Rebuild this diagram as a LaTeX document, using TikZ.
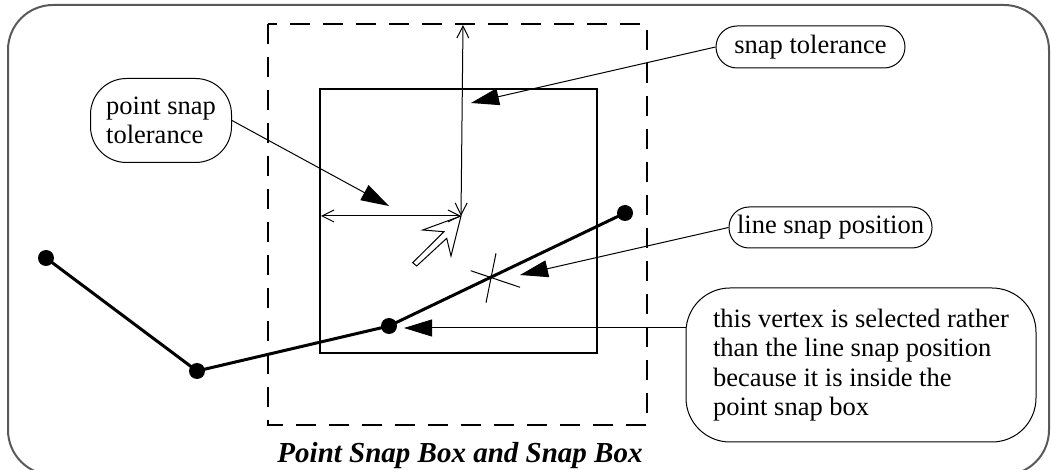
\documentclass[tikz,border=0pt]{standalone}
\usepackage{fontspec}
\setmainfont{Liberation Serif}
\usetikzlibrary{positioning,arrows.meta}

\begin{document}
\begin{tikzpicture}[x=0.5pt,y=-0.5pt,
  callout/.style={draw,line width=0.5pt,inner sep=0pt,align=left,font=\fontsize{13.25}{14.75}\selectfont},
  leader/.style={line width=0.5pt,-{Triangle[length=14pt,width=8.5pt]}},
  dimline/.style={line width=0.5pt,{Straight Barb[length=6pt,width=6pt]}-{Straight Barb[length=6pt,width=6pt]}},
  vertexdot/.style={circle,fill,inner sep=0pt,minimum size=8pt}]
\useasboundingbox (0,0) rectangle (1051,470);
\draw[black!65,line width=1pt,rounded corners=22.5pt] (8,5) rectangle (1049,475);
% the two boxes
\draw[line width=1.2pt,dash pattern=on 10pt off 6.5pt] (268,24) rectangle (647,425);
\draw[line width=1pt] (320,89) rectangle (597,353);
% line with its vertices
\coordinate (v1) at (46,258); \coordinate (v2) at (197,371); \coordinate (v3) at (389,326); \coordinate (v4) at (625,213);
\draw[line width=1.5pt] (v1)--(v2)--(v3)--(v4);
\foreach \v in {v1,v2,v3,v4} \node[vertexdot] at (\v) {};
% cursor and tolerances
\coordinate (hot) at (461,216); \coordinate (boxtop) at (463,25); \coordinate (boxleft) at (321,216);
\draw[dimline] (boxleft)--(hot);
\draw[dimline] (hot)--(boxtop);
\draw[line width=0.5pt] (hot)--(422.7,230)--(444,231.7)--(412.7,262.7)--(416.7,266)--(446.7,238.3)--(451,256)--cycle;
% line snap position mark
\draw[line width=0.5pt] (470.7,270.7)--(520,287.3) (496,253.3)--(486,302.7);
% callouts
\node[callout,rounded corners=10.5pt,minimum width=94.5pt,minimum height=21pt] (snaptol) at (810.5,47) {snap tolerance};
\node[callout,rounded corners=18pt,minimum width=70.5pt,minimum height=42pt] (ptsnap) at (161,120.5) {point snap\\tolerance};
\node[callout,rounded corners=10pt,minimum width=101.5pt,minimum height=20.5pt] (linesnap) at (830.5,227.5) {line snap position};
\node[callout,rounded corners=22pt,minimum width=175pt,minimum height=77pt] (vtxbox) at (861,365) {this vertex is selected rather\\than the line snap position\\because it is inside the\\point snap box};
\coordinate (snaptip) at (471,103); \coordinate (pttip) at (389,206); \coordinate (linetip) at (520,275); \coordinate (vtxtip) at (404,328);
\draw[leader] (snaptol.west)--(snaptip);
\draw[leader] (ptsnap.east)--(pttip);
\draw[leader] (linesnap.west)--(linetip);
\draw[leader] (vtxbox.west |- vtxtip)--(vtxtip);
\node[anchor=base,font=\fontsize{14.5}{17}\selectfont\bfseries\itshape] (title) at (460,463) {Point Snap Box and Snap Box};
\end{tikzpicture}
\end{document}
